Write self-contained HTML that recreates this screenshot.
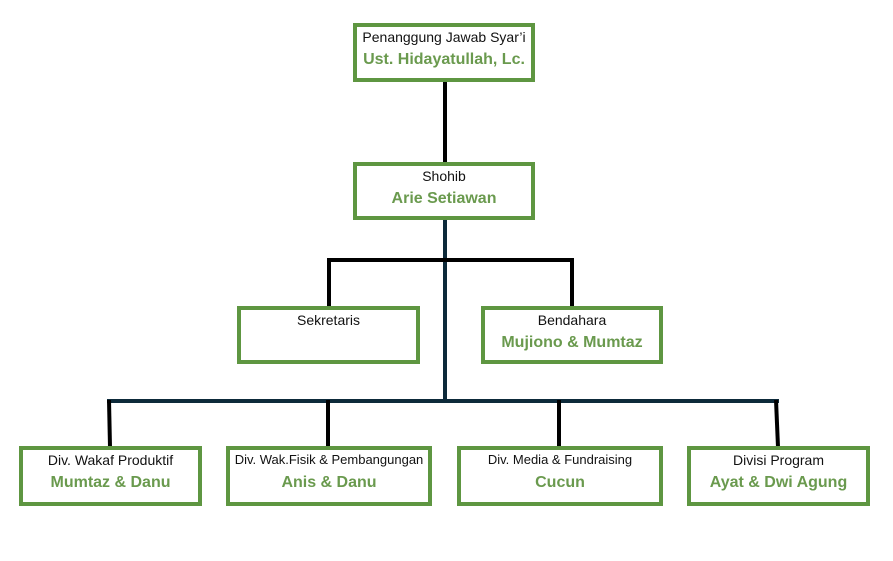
<!DOCTYPE html>
<html><head><meta charset="utf-8"><style>
body{margin:0;width:893px;height:561px;background:#fff;position:relative;overflow:hidden;font-family:"Liberation Sans",Arial,sans-serif}
.b{position:absolute;box-sizing:border-box;border:4px solid #5e9641;background:#fff;text-align:center}
.t{color:#111;font-size:14px;margin-top:1px;line-height:18px}
.n{color:#6a9a4e;font-weight:bold;font-size:16px;margin-top:5px;line-height:18px}
svg{position:absolute;left:0;top:0}
</style></head><body>
<svg width="893" height="561">
<g stroke-width="4" fill="none">
<line x1="445" y1="80" x2="445" y2="163" stroke="#000"/>
<line x1="445" y1="218" x2="445" y2="403" stroke="#0d2a3a"/>
<polyline points="329,307 329,260 572,260 572,307" stroke="#000"/>
<line x1="107" y1="401" x2="779" y2="401" stroke="#0d2a3a"/>
<line x1="109" y1="400" x2="110" y2="447" stroke="#000"/>
<line x1="328" y1="400" x2="328" y2="447" stroke="#000"/>
<line x1="559" y1="400" x2="559" y2="447" stroke="#000"/>
<line x1="776" y1="400" x2="778" y2="447" stroke="#000"/>
</g></svg>
<div class="b" style="left:353px;top:23px;width:182px;height:59px"><div class="t">Penanggung Jawab Syar’i</div><div class="n">Ust. Hidayatullah, Lc.</div></div>
<div class="b" style="left:353px;top:162px;width:182px;height:58px"><div class="t">Shohib</div><div class="n">Arie Setiawan</div></div>
<div class="b" style="left:237px;top:306px;width:183px;height:58px"><div class="t">Sekretaris</div></div>
<div class="b" style="left:481px;top:306px;width:182px;height:58px"><div class="t">Bendahara</div><div class="n">Mujiono &amp; Mumtaz</div></div>
<div class="b" style="left:19px;top:446px;width:183px;height:60px"><div class="t">Div. Wakaf Produktif</div><div class="n">Mumtaz &amp; Danu</div></div>
<div class="b" style="left:226px;top:446px;width:206px;height:60px"><div class="t" style="font-size:13px">Div. Wak.Fisik &amp; Pembangungan</div><div class="n">Anis &amp; Danu</div></div>
<div class="b" style="left:457px;top:446px;width:206px;height:60px"><div class="t" style="font-size:13px">Div. Media &amp; Fundraising</div><div class="n">Cucun</div></div>
<div class="b" style="left:687px;top:446px;width:183px;height:60px"><div class="t">Divisi Program</div><div class="n">Ayat &amp; Dwi Agung</div></div>
</body></html>
